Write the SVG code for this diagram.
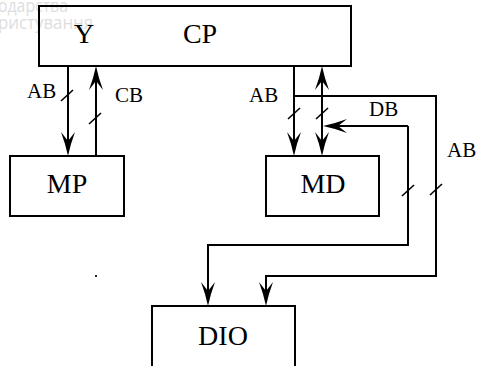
<svg xmlns="http://www.w3.org/2000/svg" width="479" height="366" viewBox="0 0 479 366">
  <style>
    .box { fill: none; stroke: #000; stroke-width: 2; }
    .wire { fill: none; stroke: #000; stroke-width: 2; }
    .tick { stroke: #000; stroke-width: 1.6; }
    .name { font-family: 'Liberation Serif', 'DejaVu Serif', serif; font-size: 28px; fill: #000; text-anchor: middle; }
    .bus { font-family: 'Liberation Serif', 'DejaVu Serif', serif; font-size: 21px; fill: #000; }
    .mark { font-family: 'Open Sans', 'Noto Sans', sans-serif; font-size: 19px; fill: #dedede; }
  </style>
  <defs>
    <marker id="arrow" markerUnits="userSpaceOnUse" viewBox="-16 -9 28 18" markerWidth="28" markerHeight="18" refX="0" refY="0" orient="auto-start-reverse">
      <path d="M10,0 Q-2,-2.5 -14,-7 L-5,0 L-14,7 Q-2,2.5 10,0 Z" fill="#000"/>
    </marker>
  </defs>

  <!-- faint background lettering -->
  <g id="background">
    <text class="mark" x="-2" y="12" textLength="70" lengthAdjust="spacingAndGlyphs">одарства</text>
    <text class="mark" x="-2" y="29" textLength="95" lengthAdjust="spacingAndGlyphs">ристування</text>
  </g>

  <!-- bus connectors -->
  <g id="connectors">
    <!-- CP to MP -->
    <path class="wire" d="M68,66 V146" marker-end="url(#arrow)"/>
    <path class="wire" d="M96,156 V76" marker-end="url(#arrow)"/>
    <!-- CP address bus to MD and DIO -->
    <path class="wire" d="M294,66 V146" marker-end="url(#arrow)"/>
    <path class="wire" d="M294,96 H436 V276 H266 V296" marker-end="url(#arrow)"/>
    <!-- data bus between CP, MD and DIO -->
    <path class="wire" d="M322,76 V146" marker-start="url(#arrow)" marker-end="url(#arrow)"/>
    <path class="wire" d="M408,126 H333" marker-end="url(#arrow)"/>
    <path class="wire" d="M408,126 V245 H208 V296" marker-end="url(#arrow)"/>
    <!-- bus-width slashes -->
    <line class="tick" x1="61" y1="101" x2="73" y2="90"/>
    <line class="tick" x1="89" y1="124" x2="101" y2="113"/>
    <line class="tick" x1="288" y1="119" x2="300" y2="108"/>
    <line class="tick" x1="316" y1="119" x2="328" y2="108"/>
    <line class="tick" x1="402" y1="196" x2="414" y2="185"/>
    <line class="tick" x1="430" y1="195" x2="442" y2="184"/>
    <!-- bus labels -->
    <text class="bus" x="27" y="98">AB</text>
    <text class="bus" x="115" y="102">CB</text>
    <text class="bus" x="249" y="102">AB</text>
    <text class="bus" x="369" y="116">DB</text>
    <text class="bus" x="447" y="157">AB</text>
  </g>

  <g id="cp">
    <rect class="box" x="39" y="6" width="312" height="60"/>
    <text class="name" x="84" y="43">Y</text>
    <text class="name" x="200" y="43">CP</text>
  </g>

  <g id="mp">
    <rect class="box" x="10" y="156" width="114" height="60"/>
    <text class="name" x="67" y="193">MP</text>
  </g>

  <g id="md">
    <rect class="box" x="266" y="156" width="113" height="60"/>
    <text class="name" x="323" y="193">MD</text>
  </g>

  <g id="dio">
    <rect class="box" x="152" y="306" width="143" height="62"/>
    <text class="name" x="223" y="345">DIO</text>
  </g>

  <rect id="dot" x="95" y="275" width="2" height="2" fill="#222"/>
</svg>
